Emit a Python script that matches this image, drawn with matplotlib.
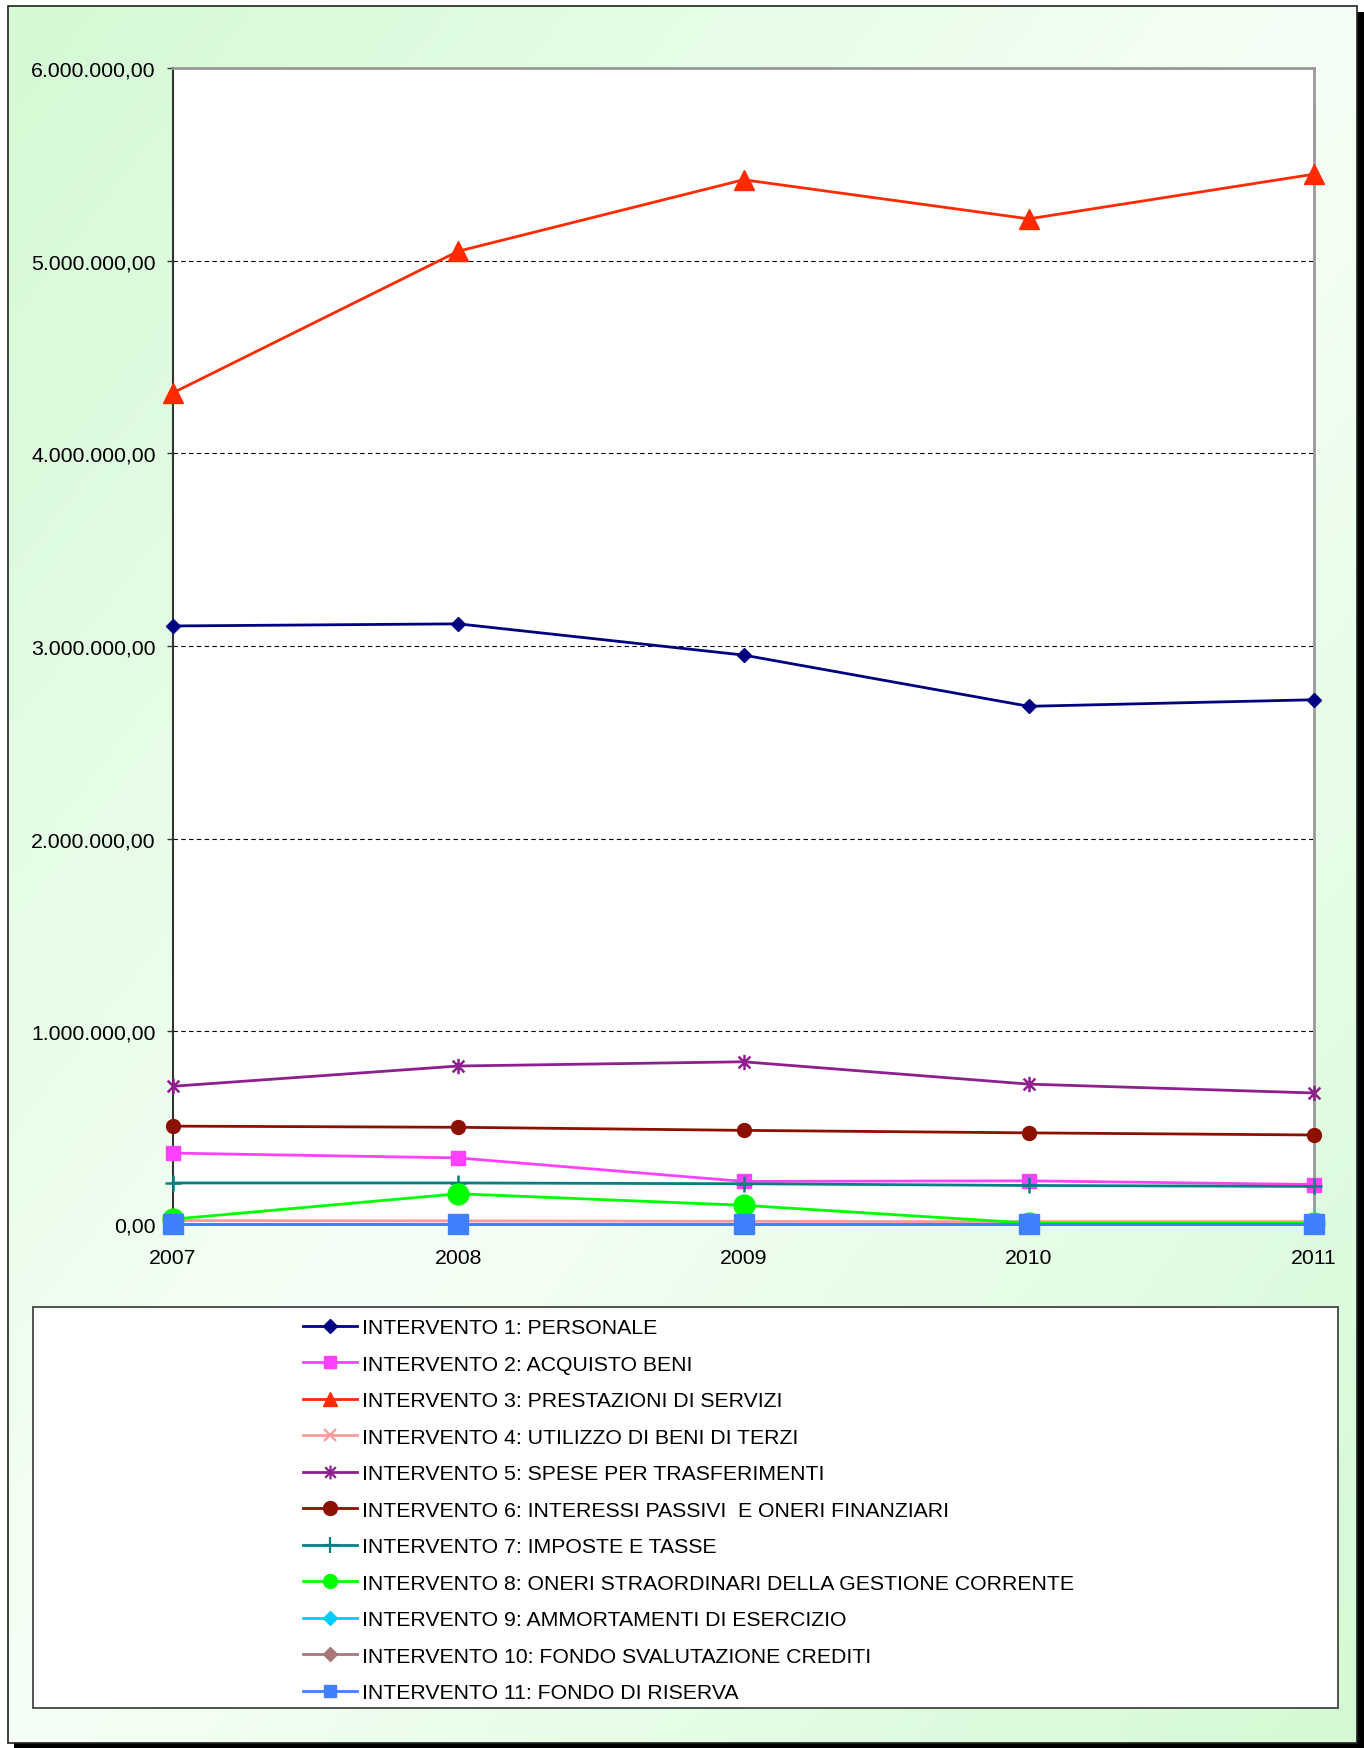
# Spesa corrente per interventi 2007-2011

import numpy as np
import matplotlib.pyplot as plt
from matplotlib.patches import Rectangle
from matplotlib.lines import Line2D
from matplotlib.path import Path
from matplotlib.ticker import FuncFormatter, MultipleLocator

plt.rcParams["font.family"] = ["Liberation Sans", "DejaVu Sans"]

years = ["2007", "2008", "2009", "2010", "2011"]
personale = [3104000, 3115000, 2953000, 2687000, 2721000]
acquisto_beni = [368000, 343000, 221000, 224000, 205000]
prestazioni = [4314000, 5049000, 5420000, 5217000, 5449000]
utilizzo_beni = [18000, 16000, 14000, 12000, 12000]
trasferimenti = [715000, 820000, 842000, 726000, 680000]
interessi = [508000, 502000, 486000, 473000, 462000]
imposte = [213000, 213000, 209000, 200000, 195000]
straordinari = [25000, 157000, 97000, 5000, 5000]
ammortamenti = [0, 0, 0, 0, 0]
svalutazione = [0, 0, 0, 0, 0]
riserva = [0, 0, 0, 0, 0]

labels = [
    "INTERVENTO 1: PERSONALE",
    "INTERVENTO 2: ACQUISTO BENI",
    "INTERVENTO 3: PRESTAZIONI DI SERVIZI",
    "INTERVENTO 4: UTILIZZO DI BENI DI TERZI",
    "INTERVENTO 5: SPESE PER TRASFERIMENTI",
    "INTERVENTO 6: INTERESSI PASSIVI  E ONERI FINANZIARI",
    "INTERVENTO 7: IMPOSTE E TASSE",
    "INTERVENTO 8: ONERI STRAORDINARI DELLA GESTIONE CORRENTE",
    "INTERVENTO 9: AMMORTAMENTI DI ESERCIZIO",
    "INTERVENTO 10: FONDO SVALUTAZIONE CREDITI",
    "INTERVENTO 11: FONDO DI RISERVA",
]
series = [personale, acquisto_beni, prestazioni, utilizzo_beni, trasferimenti,
          interessi, imposte, straordinari, ammortamenti, svalutazione, riserva]

# excel-like star marker (X + vertical bar)
star = Path([(-1, -1), (1, 1), (-1, 1), (1, -1), (0, -1.3), (0, 1.3)],
            [Path.MOVETO, Path.LINETO, Path.MOVETO, Path.LINETO, Path.MOVETO, Path.LINETO])

colors = ["#000080", "#ff40ff", "#ff2a00", "#ff9999", "#8e1f8e", "#8b1000",
          "#008080", "#00ff00", "#00ccff", "#a87878", "#4080ff"]
markers = ["D", "s", "^", "x", star, "o", "+", "o", "D", "D", "s"]
sizes = [7, 10, 15, 10, 11, 10, 11, 15, 7, 7, 14.5]
leg_sizes = [7, 9, 10, 8, 10, 10, 11, 10, 7, 7, 9]

FS = 15.3
W, H = 1364, 1749
fig = plt.figure(figsize=(W / 100, H / 100), dpi=100)

# background: gradient frame with shadow
bg = fig.add_axes([0, 0, 1, 1])
bg.axis("off")
bg.add_patch(Rectangle((14, 13), 1350, 1736, facecolor="black", edgecolor="none", zorder=-2))
yy, xx = np.mgrid[0:1:300j, 0:1:240j]
s = (xx + yy) / 2
t = 1 - np.abs(2 * s - 1)
green = np.array([212, 249, 212]) / 255
light = np.array([246, 255, 246]) / 255
img = green + (light - green) * t[..., None]
bg.imshow(img, extent=(8, 1357, 1744, 7), aspect="auto", interpolation="bilinear", zorder=-1)
bg.add_patch(Rectangle((8, 7), 1349, 1737, facecolor="none", edgecolor="#222222", lw=1.2, zorder=1))
bg.add_patch(Rectangle((33, 1308), 1305, 401, facecolor="white", edgecolor="#444444", lw=1.3, zorder=1))
bg.set_xlim(0, W)
bg.set_ylim(H, 0)

ax = fig.add_axes([173 / W, 1 - 1225 / H, (1314 - 173) / W, (1225 - 69) / H])
ax.set_facecolor("white")
x = np.arange(len(years))
for i in range(len(series)):
    mew = 1.8 if markers[i] in ("x", "+") or i == 4 else 1
    ax.plot(x, series[i], color=colors[i], lw=2, marker=markers[i], markersize=sizes[i],
            markerfacecolor=colors[i], markeredgecolor=colors[i], markeredgewidth=mew,
            clip_on=False, zorder=3 + i)

ax.set_xlim(0, 4)
ax.set_ylim(0, 6000000)
ax.set_xticks(x)
ax.set_xticklabels(years)
ax.yaxis.set_major_locator(MultipleLocator(1000000))
ax.yaxis.set_major_formatter(FuncFormatter(
    lambda v, p: f"{v:,.2f}".replace(",", "X").replace(".", ",").replace("X", ".")))
ax.tick_params(axis="y", length=4.5, width=1, pad=8, labelsize=FS, color="#333333")
ax.tick_params(axis="x", length=0, pad=17, labelsize=FS)
ax.grid(axis="y", color="black", linestyle=(0, (4, 3)), lw=0.8)
ax.set_axisbelow(True)
ax.spines["left"].set_color("#333333")
ax.spines["left"].set_linewidth(1.5)
ax.spines["bottom"].set_color("#333333")
ax.spines["bottom"].set_linewidth(1.5)
ax.spines["top"].set_color("#999999")
ax.spines["top"].set_linewidth(2)
ax.spines["right"].set_color("#999999")
ax.spines["right"].set_linewidth(2)

handles = []
for i in range(len(series)):
    mew = 1.6 if markers[i] in ("x", "+") or i == 4 else 1
    handles.append(Line2D([], [], color=colors[i], lw=2, marker=markers[i],
                          markersize=leg_sizes[i], markerfacecolor=colors[i],
                          markeredgecolor=colors[i], markeredgewidth=mew))
fig.legend(handles, labels, loc="upper left", bbox_to_anchor=(303 / W, 1 - 1319 / H),
           frameon=False, fontsize=FS, handlelength=2.55, handletextpad=0.24,
           labelspacing=0.825, borderpad=0, borderaxespad=0, numpoints=1)

plt.savefig("out.png", dpi=100)
